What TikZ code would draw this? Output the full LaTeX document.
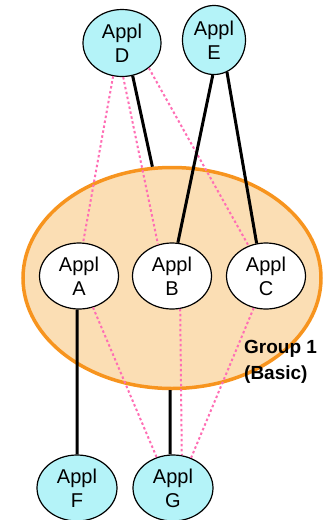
\documentclass[tikz,border=0pt]{standalone}
\usepackage{fontspec}
\setmainfont{Liberation Sans}
\usetikzlibrary{shapes.geometric}
\definecolor{applcyan}{RGB}{180,243,248}
\definecolor{grpfill}{RGB}{251,222,180}
\definecolor{grpline}{RGB}{247,148,30}
\definecolor{linkpink}{RGB}{255,110,180}
\begin{document}
\begin{tikzpicture}[x=1pt,y=-1pt,
    appl/.style={ellipse,draw,fill=white,line width=1.2pt,inner sep=0pt,minimum width=79pt,minimum height=66pt,align=center,font=\fontsize{20}{24}\selectfont},
    extappl/.style={appl,fill=applcyan},
    link/.style={line width=3pt},
    peer/.style={linkpink,line width=2pt,dash pattern=on 2.5pt off 2.5pt}]
  \useasboundingbox (0,0) rectangle (323,520);
  \node[ellipse,draw=grpline,line width=3.5pt,fill=grpfill,minimum width=298pt,minimum height=221pt] (grp) at (172,278) {};
  \node[anchor=north west,align=left,inner sep=0pt,font=\bfseries\fontsize{19}{26}\selectfont] (grplabel) at (244,340) {Group 1\\(Basic)};
  \node[appl] (A) at (79,276) {Appl\\A};
  \node[appl] (B) at (172,276) {Appl\\B};
  \node[appl] (C) at (266,276) {Appl\\C};
  \node[extappl,minimum width=78pt,minimum height=67pt] (D) at (122,43) {Appl\\D};
  \node[extappl,minimum width=63pt,minimum height=69pt] (E) at (214,40) {Appl\\E};
  \node[extappl,minimum width=80pt] (F) at (77,488) {Appl\\F};
  \node[extappl,minimum width=80pt] (G) at (173,488) {Appl\\G};
  \draw[peer] (D.-105) -- (A.83);
  \draw[peer] (D.-88) -- (B.114);
  \draw[peer] (D.-43) -- (C.120);
  \draw[peer] (A.-66) -- (G.118);
  \draw[peer] (B.-76) -- (G.75);
  \draw[peer] (C.-111) -- (G.59);
  \draw[link] (D.-72) -- (grp.100);
  \draw[link] (E.-92) -- (B.80);
  \draw[link] (E.-68) -- (C.106);
  \draw[link] (A.-93) -- (F.north);
  \draw[link] (grp.-91) -- (G.95);
\end{tikzpicture}
\end{document}
